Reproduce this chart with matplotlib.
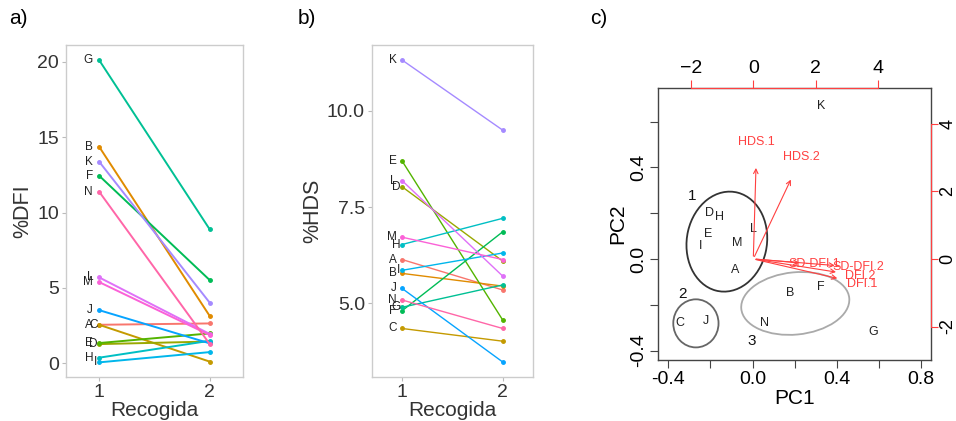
import matplotlib.pyplot as plt
from matplotlib.patches import Ellipse

plt.rcParams['font.family'] = ['Liberation Sans', 'DejaVu Sans']

# muestras (toros)
letras = ['A', 'B', 'C', 'D', 'E', 'F', 'G', 'H', 'I', 'J', 'K', 'L', 'M', 'N']
colores = ['#F8766D', '#E08B00', '#C49A00', '#99A800', '#53B400', '#00BC56', '#00C094',
           '#00BFC4', '#00B6EB', '#06A4FF', '#A58AFF', '#DF70F8', '#FB61D7', '#FF66A8']

# a) %DFI en recogida 1 y 2
dfi_1 = [2.56, 14.36, 2.56, 1.28, 1.35, 12.44, 20.1, 0.38, 0.07, 3.53, 13.37, 5.70, 5.39, 11.38]
dfi_2 = [2.65, 3.14, 0.12, 1.45, 1.99, 5.52, 8.88, 1.50, 0.75, 1.33, 4.02, 1.95, 1.88, 1.28]

# b) %HDS en recogida 1 y 2
hds_1 = [6.14, 5.78, 4.35, 8.03, 8.70, 4.81, 4.90, 6.53, 5.86, 5.39, 11.32, 8.19, 6.72, 5.09]
hds_2 = [5.35, 5.45, 4.02, 6.10, 4.57, 6.86, 5.48, 7.21, 6.31, 3.48, 9.50, 5.71, 6.14, 4.35]

# c) PCA: puntuaciones
pc1 = [-0.084, 0.178, -0.343, -0.206, -0.210, 0.322, 0.575, -0.158, -0.248, -0.221, 0.325, 0.003, -0.074, 0.056]
pc2 = [-0.048, -0.147, -0.278, 0.202, 0.109, -0.121, -0.320, 0.182, 0.058, -0.271, 0.670, 0.131, 0.069, -0.278]

# cargas (posicion de las etiquetas)
variables = ['HDS.1', 'HDS.2', 'SD-DFI.1', 'SD-DFI.2', 'DFI.2', 'DFI.1']
carga_x = [0.11, 1.55, 1.95, 3.37, 3.42, 3.47]
carga_y = [3.47, 3.03, -0.15, -0.25, -0.50, -0.74]

# grupos
grupos = ['1', '2', '3']
grupo_x = [-0.285, -0.333, -0.003]
grupo_y = [0.277, -0.154, -0.358]

fig = plt.figure(figsize=(9.56, 4.21), dpi=100)

gris_txt = '#333333'


def panel_lineas(rect, v1, v2, ylim, yticks, yticklabels, ylabel, lw, desplazadas):
    ax = fig.add_axes(rect)
    for i, l in enumerate(letras):
        ax.plot([1, 2], [v1[i], v2[i]], color=colores[i], lw=lw, marker='o', ms=2.5, zorder=3)
        xt = 0.985 if l in desplazadas else 0.945
        ax.text(xt, v1[i], l, ha='right', va='center', fontsize=8.5, color='#222222')
    ax.set_xlim(0.7, 2.3)
    ax.set_ylim(*ylim)
    ax.set_xticks([1, 2])
    ax.set_xticklabels(['1', '2'])
    ax.set_yticks(yticks)
    ax.set_yticklabels(yticklabels)
    for s in ax.spines.values():
        s.set_color('#CCCCCC')
        s.set_linewidth(1)
    ax.tick_params(colors='#BBBBBB', labelcolor=gris_txt, labelsize=14, length=3, width=0.8, pad=2)
    ax.set_xlabel('Recogida', fontsize=15, color=gris_txt, labelpad=0)
    ax.set_ylabel(ylabel, fontsize=15.5, color=gris_txt, labelpad=3)
    return ax


panel_lineas([0.069, 0.1045, 0.1851, 0.7886], dfi_1, dfi_2, (-0.9, 21.1),
             [0, 5, 10, 15, 20], ['0', '5', '10', '15', '20'], '%DFI', 1.4, ['C', 'D', 'I'])
panel_lineas([0.389, 0.1045, 0.1684, 0.7886], hds_1, hds_2, (3.09, 11.71),
             [5.0, 7.5, 10.0], ['5.0', '7.5', '10.0'], '%HDS', 1.0, ['D', 'H', 'I', 'G'])

# c) biplot
rect_c = [0.6883, 0.1449, 0.2856, 0.6461]
ax = fig.add_axes(rect_c)
ax.set_xlim(-0.449, 0.848)
ax.set_ylim(-0.441, 0.747)
for i, l in enumerate(letras):
    ax.text(pc1[i], pc2[i], l, ha='center', va='center', fontsize=9, color='#222222')
for g, x, y in zip(grupos, grupo_x, grupo_y):
    ax.text(x, y, g, ha='center', va='center', fontsize=11, color='#111111')

ax.add_patch(Ellipse((-0.122, 0.076), 0.38, 0.44, angle=-14, fill=False, ec='#333333', lw=1.3))
ax.add_patch(Ellipse((-0.269, -0.281), 0.215, 0.21, fill=False, ec='#666666', lw=1.3))
ax.add_patch(Ellipse((0.203, -0.194), 0.515, 0.272, angle=5, fill=False, ec='#AAAAAA', lw=1.3))

ax.set_xticks([-0.4, -0.2, 0.0, 0.2, 0.4, 0.6, 0.8])
ax.set_xticklabels(['-0.4', '', '0.0', '', '0.4', '', '0.8'])
ax.set_yticks([-0.4, -0.2, 0.0, 0.2, 0.4, 0.6])
ax.set_yticklabels(['-0.4', '', '0.0', '', '0.4', ''], rotation=90, va='center')
ax.tick_params(labelsize=14, length=6, width=0.8, color='#444444', pad=2)
for s in ax.spines.values():
    s.set_color('#444444')
    s.set_linewidth(1)
ax.set_xlabel('PC1', fontsize=15, labelpad=1)
ax.set_ylabel('PC2', fontsize=15, labelpad=2)

rojo = '#FF4040'
ax2 = fig.add_axes(rect_c)
ax2.patch.set_visible(False)
ax2.set_xlim(-3.05, 5.69)
ax2.set_ylim(-2.99, 5.06)
ax2.xaxis.tick_top()
ax2.yaxis.tick_right()
ax2.set_xticks([-2, 0, 2, 4])
ax2.set_yticks([-2, 0, 2, 4])
ax2.set_yticklabels(['-2', '0', '2', '4'], rotation=90, va='center')
ax2.tick_params(axis='x', labelsize=14, length=6, width=0.8, color=rojo, pad=2)
ax2.tick_params(axis='y', labelsize=13, length=5, width=0.8, color=rojo, pad=1)
for k in ['left', 'bottom']:
    ax2.spines[k].set_visible(False)
ax2.spines['top'].set_bounds(-2, 4)
ax2.spines['right'].set_bounds(-2, 4)
ax2.spines['top'].set_color(rojo)
ax2.spines['right'].set_color(rojo)
for v, x, y in zip(variables, carga_x, carga_y):
    ax2.annotate('', xy=(0.8 * x, 0.8 * y), xytext=(0, 0),
                 arrowprops=dict(arrowstyle='->', color=rojo, lw=0.8, mutation_scale=8))
    ax2.text(x, y, v, ha='center', va='center', fontsize=9, color=rojo)

# etiquetas de panel
fig.text(0.010, 0.955, 'a)', fontsize=15, va='center')
fig.text(0.311, 0.955, 'b)', fontsize=15, va='center')
fig.text(0.617, 0.955, 'c)', fontsize=15, va='center')

fig.savefig('out.png', dpi=100)
